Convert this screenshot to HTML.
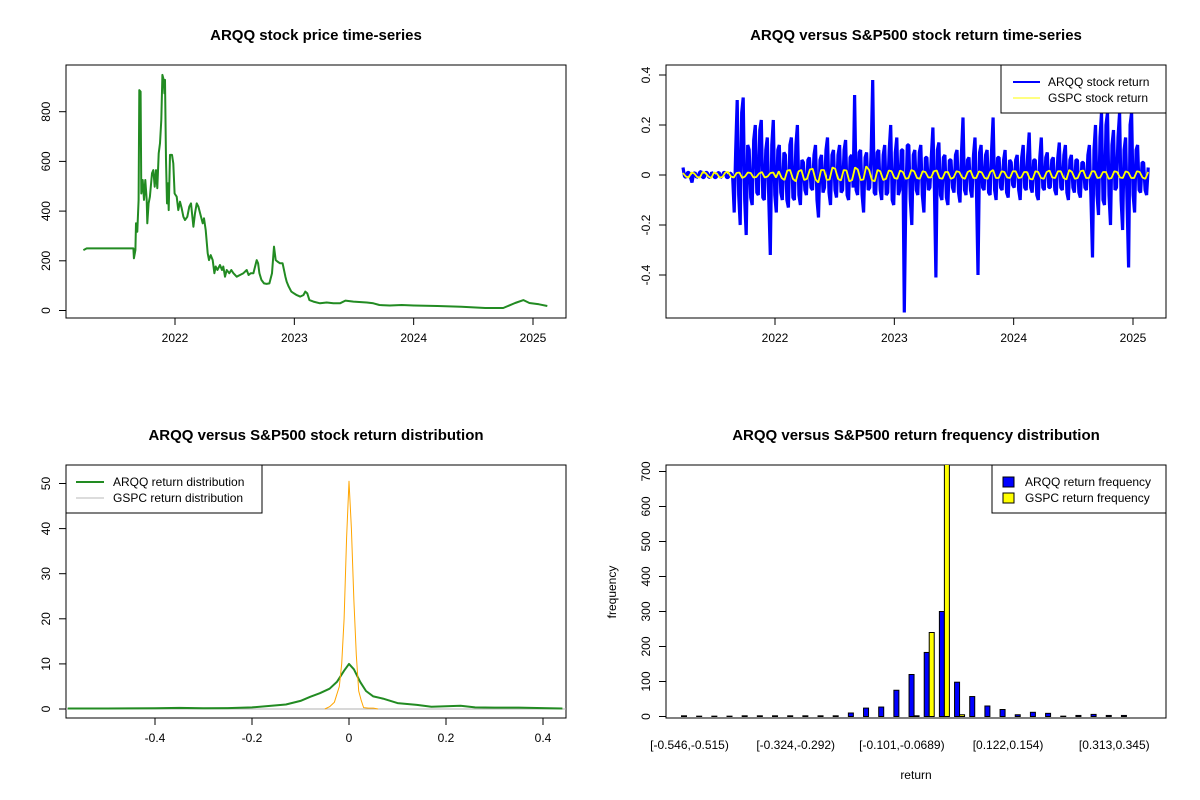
<!DOCTYPE html>
<html><head><meta charset="utf-8"><style>
body{margin:0;background:#fff}
svg{display:block;font-family:"Liberation Sans",Arial,sans-serif}
.t{font-weight:bold;font-size:15px;text-anchor:middle}
.tk{font-size:12px}
</style></head><body>
<svg id="s" width="1200" height="800" viewBox="0 0 1200 800">
<rect width="1200" height="800" fill="#fff"/>
<text class="t" x="316" y="40">ARQQ stock price time-series</text>
<text class="t" x="916" y="40">ARQQ versus S&amp;P500 stock return time-series</text>
<text class="t" x="316" y="440">ARQQ versus S&amp;P500 stock return distribution</text>
<text class="t" x="916" y="440">ARQQ versus S&amp;P500 return frequency distribution</text>
<text class="tk" x="916" y="779" text-anchor="middle">return</text>
<text class="tk" x="616" y="592" text-anchor="middle" transform="rotate(-90 616 592)">frequency</text>
</svg>
<script>
// ---- data ----
const priceYears=[2021.232,2021.260,2021.455,2021.651,2021.656,2021.668,2021.673,2021.684,2021.695,2021.701,2021.712,2021.718,2021.729,2021.740,2021.751,2021.763,2021.768,2021.779,2021.790,2021.807,2021.818,2021.830,2021.841,2021.852,2021.863,2021.874,2021.885,2021.894,2021.905,2021.911,2021.916,2021.925,2021.933,2021.941,2021.947,2021.958,2021.975,2021.986,2021.997,2022.014,2022.028,2022.042,2022.056,2022.070,2022.084,2022.103,2022.120,2022.134,2022.154,2022.168,2022.182,2022.196,2022.210,2022.232,2022.243,2022.257,2022.274,2022.285,2022.299,2022.316,2022.330,2022.341,2022.355,2022.377,2022.394,2022.405,2022.419,2022.433,2022.455,2022.472,2022.489,2022.517,2022.545,2022.573,2022.601,2022.617,2022.634,2022.657,2022.685,2022.696,2022.707,2022.724,2022.746,2022.768,2022.791,2022.813,2022.830,2022.844,2022.858,2022.880,2022.902,2022.925,2022.936,2022.953,2022.975,2022.997,2023.020,2023.048,2023.076,2023.092,2023.109,2023.126,2023.160,2023.215,2023.271,2023.327,2023.383,2023.428,2023.495,2023.607,2023.662,2023.713,2023.8,2023.9,2024.0,2024.2,2024.4,2024.6,2024.75,2024.85,2024.92,2024.97,2025.05,2025.12];
const priceValues=[243,250,250,250,210,243,351,317,445,887,881,471,525,445,525,445,351,431,458,552,565,498,565,492,632,673,767,948,928,874,928,606,431,512,404,626,626,592,471,458,404,438,411,377,364,377,418,431,337,391,431,418,391,351,371,324,230,203,223,203,150,177,163,183,163,177,136,163,150,163,150,136,143,150,163,143,150,150,203,190,150,123,109,107,109,150,257,203,197,190,190,136,116,96,76,69,62,56,62,76,69,42,36,29,32,29,29,40,36,32,29,22,20,22,20,18,15,10,10,30,42,30,25,18];
const arqqStart=2021.229, arqqEnd=2025.127;
const arqqReturns=[0.03,-0.005,-0.01,0.01,0.01,-0.01,-0.03,0.005,0.01,-0.01,-0.005,0.01,0.015,-0.01,-0.01,0.01,0.01,-0.008,-0.01,0.01,0.005,-0.01,-0.01,0.008,0.01,-0.01,-0.005,0.01,0.01,-0.01,-0.01,0.008,0.005,-0.01,
-0.15,0.1,0.3,-0.08,-0.2,0.25,0.31,-0.1,-0.24,0.12,0.1,-0.09,-0.12,0.14,0.2,-0.07,-0.08,0.18,0.22,-0.09,-0.1,0.1,0.15,-0.1,-0.32,0.12,0.22,-0.08,-0.15,0.1,0.12,-0.07,-0.1,0.09,0.08,-0.1,-0.13,0.12,0.15,-0.09,-0.1,0.12,0.2,-0.08,
-0.12,0.06,0.05,-0.06,-0.08,0.06,0.07,-0.05,-0.06,0.08,0.12,-0.1,-0.17,0.06,0.08,-0.07,-0.05,0.1,0.15,-0.07,-0.12,0.08,0.1,-0.06,-0.09,0.08,0.12,-0.07,-0.06,0.1,0.14,-0.08,-0.1,0.07,0.08,-0.05,0.32,-0.06,-0.08,0.09,
0.1,-0.08,-0.15,0.07,0.09,-0.06,-0.05,0.1,0.38,-0.07,-0.08,0.09,0.1,-0.06,-0.1,0.08,0.12,-0.08,-0.07,0.1,0.2,-0.1,-0.12,0.09,0.15,-0.08,-0.06,0.1,0.1,-0.55,-0.1,0.12,0.12,-0.1,-0.2,0.08,
0.1,-0.06,-0.08,0.09,0.12,-0.08,-0.15,0.07,0.07,-0.06,-0.05,0.08,0.19,-0.05,-0.41,0.1,0.13,-0.08,-0.1,0.07,0.08,-0.09,-0.12,0.06,0.06,-0.05,-0.07,0.08,0.1,-0.07,-0.11,0.09,0.23,-0.06,-0.08,0.06,0.07,-0.06,-0.09,0.08,0.15,-0.07,-0.40,0.09,0.12,-0.05,-0.06,0.08,0.1,-0.07,-0.08,0.1,0.23,-0.06,-0.1,0.07,
0.07,-0.05,-0.06,0.06,0.1,-0.07,-0.09,0.06,0.05,-0.04,-0.05,0.06,0.08,-0.06,-0.1,0.07,0.12,-0.05,-0.06,0.08,0.17,-0.05,-0.07,0.06,0.06,-0.08,-0.1,0.07,0.15,-0.05,-0.06,0.07,0.09,-0.05,-0.05,0.06,0.07,-0.06,-0.08,0.07,0.13,-0.05,-0.06,0.08,0.12,-0.07,-0.1,0.06,0.08,-0.05,-0.07,0.06,0.06,-0.07,-0.09,0.05,0.05,-0.05,-0.06,0.08,
0.12,-0.1,-0.33,0.1,0.2,-0.08,-0.16,0.15,0.25,-0.1,-0.12,0.2,0.25,-0.08,-0.2,0.12,0.18,-0.06,-0.05,0.15,0.25,-0.1,-0.22,0.1,0.15,-0.12,-0.37,0.2,0.25,-0.08,-0.15,0.1,0.12,-0.06,-0.07,0.05,0.05,-0.06,-0.08,0.03];
const gspcReturns=[0.008,-0.006,-0.01,0.01,0.006,-0.008,-0.01,0.012,0.008,-0.006,-0.012,0.01,0.006,-0.01,-0.008,0.01,0.012,-0.006,-0.01,0.008,0.01,-0.012,-0.006,0.01,0.008,-0.01,-0.008,0.006,0.012,-0.01,-0.006,0.008,0.01,-0.01,
0.015,-0.012,-0.02,0.018,0.02,-0.015,-0.025,0.015,0.02,-0.02,-0.015,0.022,0.025,-0.018,-0.03,0.02,0.02,-0.02,-0.018,0.03,0.025,-0.015,-0.022,0.02,0.018,-0.025,-0.02,0.03,0.022,-0.02,-0.018,0.035,0.02,-0.02,-0.025,0.02,0.015,-0.02,-0.015,0.018,
0.015,-0.012,-0.015,0.018,0.012,-0.015,-0.012,0.02,0.015,-0.012,-0.015,0.015,0.012,-0.01,-0.01,0.015,0.018,-0.012,-0.015,0.012,0.012,-0.015,-0.01,0.015,0.012,-0.01,-0.015,0.012,0.018,-0.012,-0.012,0.015,0.01,-0.012,-0.015,0.012,0.02,-0.012,-0.012,0.015,
0.012,-0.01,-0.012,0.015,0.015,-0.012,-0.01,0.012,0.012,-0.015,-0.018,0.015,0.012,-0.012,-0.015,0.012,0.018,-0.01,-0.012,0.015,0.015,-0.012,-0.018,0.02,0.012,-0.015,-0.012,0.015,0.018,-0.012,-0.012,0.015,0.015,-0.012,-0.01,0.012,0.012,-0.015,-0.012,0.015,0.012,-0.01,-0.012,0.015,0.01,-0.012,-0.012,0.015,0.012,-0.01,-0.015,0.012];
const densX=[-0.58,-0.5,-0.4,-0.35,-0.3,-0.25,-0.2,-0.16,-0.13,-0.1,-0.08,-0.06,-0.04,-0.025,-0.01,0,0.01,0.023,0.035,0.05,0.07,0.1,0.14,0.17,0.2,0.23,0.26,0.3,0.35,0.4,0.44];
const arqqDensity=[0.1,0.1,0.15,0.25,0.15,0.2,0.35,0.7,1.0,1.8,2.7,3.5,4.5,6.0,8.5,10,8.8,6.0,4.0,2.8,2.3,1.3,0.9,0.5,0.6,0.7,0.35,0.3,0.3,0.2,0.1];
const gspcDensX=[-0.05,-0.04,-0.03,-0.02,-0.015,-0.01,-0.005,0,0.005,0.01,0.015,0.02,0.025,0.03,0.04,0.05,0.06];
const gspcDensity=[0,0.5,1.5,5,10,20,38,50.5,40,24,12,4,2,0.3,0.2,0.2,0];
const arqqFreq=[2,1,1,1,2,2,2,2,2,2,2,10,24,27,75,120,183,300,98,57,30,20,5,12,9,1,3,6,3,3];
const gspcFreq=[0,0,0,0,0,0,0,0,0,0,0,0,0,0,0,2,240,900,5,0,0,0,0,0,0,0,0,0,0,0];
const binLabels=["[-0.546,-0.515)","[-0.324,-0.292)","[-0.101,-0.0689)","[0.122,0.154)","[0.313,0.345)"];
const binLabelIdx=[0,7,14,21,28];
const yearTicks=[2022,2023,2024,2025];
const priceTicks=[0,200,400,600,800];
const retTicks=[-0.4,-0.2,0,0.2,0.4];
const densYTicks=[0,10,20,30,40,50];
const densXTicks=[-0.4,-0.2,0,0.2,0.4];
const freqTicks=[0,100,200,300,400,500,600,700];

const NS="http://www.w3.org/2000/svg";
const svg=document.getElementById('s');
function mk(tag,attrs,parent){const e=document.createElementNS(NS,tag);for(const k in attrs)e.setAttribute(k,attrs[k]);(parent||svg).appendChild(e);return e;}
function lin(d0,d1,r0,r1){return v=>r0+(v-d0)*(r1-r0)/(d1-d0);}
function clip(id,x,y,w,h){const c=mk('clipPath',{id:id});mk('rect',{x:x,y:y,width:w,height:h},c);}
function box(x,y,w,h,name){const r=mk('rect',{x:x,y:y,width:w,height:h,fill:'none',stroke:'#000','stroke-width':1});

}
function xTicks(vals,fx,yb,labels,name){vals.forEach((v,i)=>{const x=fx(v);mk('line',{x1:x,x2:x,y1:yb,y2:yb+7,stroke:'#000'});
const t=mk('text',{x:x,y:yb+24,'text-anchor':'middle',class:'tk'});t.textContent=labels?labels[i]:v;

});}
function yTicks(vals,fy,xl,name){vals.forEach(v=>{const y=fy(v);mk('line',{x1:xl-7,x2:xl,y1:y,y2:y,stroke:'#000'});
const tx=xl-16;const t=mk('text',{x:tx,y:y,'text-anchor':'middle',class:'tk',transform:`rotate(-90 ${tx} ${y})`});t.textContent=v;

});}
function poly(xs,ys,fx,fy,col,w,name,cl,join){const p=mk('polyline',{points:xs.map((x,i)=>fx(x).toFixed(1)+','+fy(ys[i]).toFixed(1)).join(' '),fill:'none',stroke:col,'stroke-width':w,'stroke-linejoin':join||'round'});
if(cl)p.setAttribute('clip-path',`url(#${cl})`);

}
function step(n,a,b){return Array.from({length:n},(_,i)=>a+(b-a)*i/(n-1));}

// ---- panel 1 ----
const fxY1=lin(2022,2025,175,533);
const fyP=lin(0,800,310.5,111.7);
box(66,65,500,253,'price-plot-area');
xTicks(yearTicks,fxY1,318,null,'price-x-tick');
yTicks(priceTicks,fyP,66,'price-y-tick');
poly(priceYears,priceValues,fxY1,fyP,'#228B22',2,'price-line');

// ---- panel 2 ----
const fxY2=lin(2022,2025,775,1133);
const fyR=lin(0,0.4,175,75);
box(666,65,500,253,'return-plot-area');
clip('c2',666,65,500,253);
xTicks(yearTicks,fxY2,318,null,'return-x-tick');
yTicks(retTicks,fyR,666,'return-y-tick');
poly(step(arqqReturns.length,arqqStart,arqqEnd),arqqReturns,fxY2,fyR,'#0000ff',3.2,'arqq-return-line','c2','bevel');
poly(step(gspcReturns.length,arqqStart,arqqEnd),gspcReturns,fxY2,fyR,'#ffff00',1.8,'gspc-return-line','c2','bevel');
mk('rect',{x:1001,y:65,width:165,height:48,fill:'#fff',stroke:'#000'});
mk('line',{x1:1013,x2:1040,y1:82,y2:82,stroke:'#0000ff','stroke-width':2});
mk('line',{x1:1013,x2:1040,y1:98,y2:98,stroke:'#ffff00','stroke-width':1});
let t=mk('text',{x:1048,y:86,class:'tk'});t.textContent='ARQQ stock return';


t=mk('text',{x:1048,y:102,class:'tk'});t.textContent='GSPC stock return';



// ---- panel 3 ----
const fxD=lin(0,0.4,349,543);
const fyD=lin(0,50,709,483.5);
box(66,465,500,253,'density-plot-area');
clip('c3',66,465,500,253);
xTicks(densXTicks,fxD,718,null,'density-x-tick');
yTicks(densYTicks,fyD,66,'density-y-tick');
mk('line',{x1:66,x2:566,y1:fyD(0),y2:fyD(0),stroke:'#b0b0b0'});
poly(densX,arqqDensity,fxD,fyD,'#228B22',2,'arqq-density-line','c3');
poly(gspcDensX,gspcDensity,fxD,fyD,'#FFA500',1,'gspc-density-line','c3');
mk('rect',{x:66,y:465,width:196,height:48,fill:'#fff',stroke:'#000'});
mk('line',{x1:76,x2:104,y1:482,y2:482,stroke:'#228B22','stroke-width':2});
mk('line',{x1:76,x2:104,y1:498,y2:498,stroke:'#b8b8b8','stroke-width':1});
t=mk('text',{x:113,y:486,class:'tk'});t.textContent='ARQQ return distribution';


t=mk('text',{x:113,y:502,class:'tk'});t.textContent='GSPC return distribution';



// ---- panel 4 ----
const fyF=lin(0,700,716.5,471.5);
const groupX=i=>681.5+15.17*i;
box(666,465,500,253,'histogram-plot-area');
clip('c4',666,465,500,253);
yTicks(freqTicks,fyF,666,'frequency-y-tick');
arqqFreq.forEach((v,i)=>{const x=groupX(i);const r=mk('rect',{x:x,y:fyF(v),width:5,height:fyF(0)-fyF(v),fill:'#0000ff',stroke:'#000','stroke-width':1,'clip-path':'url(#c4)'});

});
gspcFreq.forEach((v,i)=>{const x=groupX(i)+5;const r=mk('rect',{x:x,y:fyF(v),width:5,height:fyF(0)-fyF(v),fill:'#ffff00',stroke:'#000','stroke-width':1,'clip-path':'url(#c4)'});

});
binLabelIdx.forEach((gi,k)=>{const tt=mk('text',{x:groupX(gi)+8,y:749,'text-anchor':'middle',class:'tk'});tt.textContent=binLabels[k];

});
mk('rect',{x:992,y:465,width:174,height:48,fill:'#fff',stroke:'#000'});
mk('rect',{x:1003,y:477,width:11,height:10,fill:'#0000ff',stroke:'#000'});
mk('rect',{x:1003,y:493,width:11,height:10,fill:'#ffff00',stroke:'#000'});
t=mk('text',{x:1025,y:486,class:'tk'});t.textContent='ARQQ return frequency';


t=mk('text',{x:1025,y:502,class:'tk'});t.textContent='GSPC return frequency';


</script>
</body></html>
